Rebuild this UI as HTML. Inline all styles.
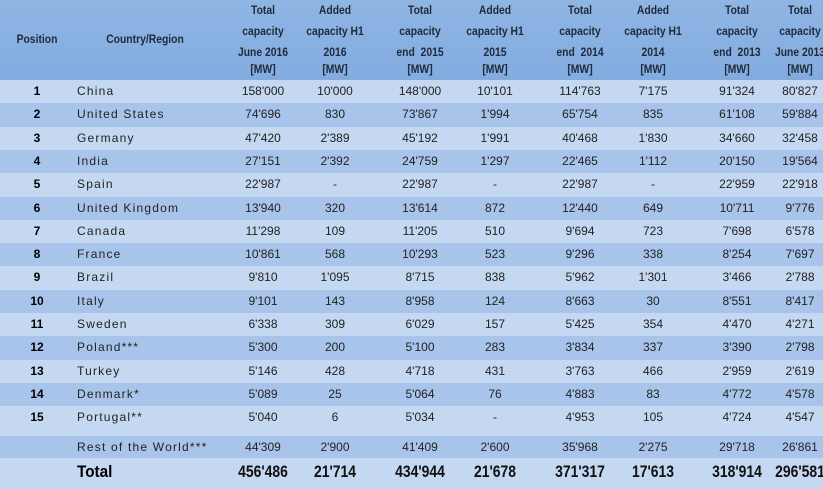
<!DOCTYPE html><html><head><style>
body{margin:0;width:823px;height:489px;background:#fff;font-family:"Liberation Sans",sans-serif;overflow:hidden;position:relative}
.hdr{position:absolute;left:0;top:0;width:823px;height:80px;background:linear-gradient(#8fb5e3,#82abdf)}
.h{position:absolute;font-weight:bold;font-size:11.5px;color:#1f2a3a;text-align:center;transform:translateX(-50%) scaleX(0.9);white-space:nowrap}
.r{position:absolute;left:0;width:823px}
.c{position:absolute;font-size:12px;color:#222;transform:translateX(-50%);white-space:nowrap;z-index:2}
.n{position:absolute;left:77px;font-size:12px;letter-spacing:1.2px;color:#222;white-space:nowrap;z-index:2}
.p{position:absolute;font-weight:bold;font-size:12px;transform:translateX(-50%);z-index:2}
</style></head><body>
<div class="hdr"></div>
<div id="rows"></div>
<div id="hd"></div>
<script>
var d=[["1","China","158'000","10'000","148'000","10'101","114'763","7'175","91'324","80'827"],
["2","United States","74'696","830","73'867","1'994","65'754","835","61'108","59'884"],
["3","Germany","47'420","2'389","45'192","1'991","40'468","1'830","34'660","32'458"],
["4","India","27'151","2'392","24'759","1'297","22'465","1'112","20'150","19'564"],
["5","Spain","22'987","-","22'987","-","22'987","-","22'959","22'918"],
["6","United Kingdom","13'940","320","13'614","872","12'440","649","10'711","9'776"],
["7","Canada","11'298","109","11'205","510","9'694","723","7'698","6'578"],
["8","France","10'861","568","10'293","523","9'296","338","8'254","7'697"],
["9","Brazil","9'810","1'095","8'715","838","5'962","1'301","3'466","2'788"],
["10","Italy","9'101","143","8'958","124","8'663","30","8'551","8'417"],
["11","Sweden","6'338","309","6'029","157","5'425","354","4'470","4'271"],
["12","Poland***","5'300","200","5'100","283","3'834","337","3'390","2'798"],
["13","Turkey","5'146","428","4'718","431","3'763","466","2'959","2'619"],
["14","Denmark*","5'089","25","5'064","76","4'883","83","4'772","4'578"],
["15","Portugal**","5'040","6","5'034","-","4'953","105","4'724","4'547"]];
var xs=[263,335,420,495,580,653,737,800],h="",rh=23.3;
function row(top,ht,bg,r,big){h+='<div class="r" style="top:'+top+'px;height:'+ht+'px;background:'+bg+'"></div>';
if(!r)return;var ty=top+4;
if(r[0])h+='<div class="p" style="left:37px;top:'+ty+'px">'+r[0]+'</div>';
if(big){h+='<div style="position:absolute;left:77px;top:'+(top+4)+'px;font-weight:bold;font-size:17px;z-index:2;transform:scaleX(0.9);transform-origin:left">'+r[1]+'</div>';}
else h+='<div class="n" style="top:'+ty+'px">'+r[1]+'</div>';
for(var i=0;i<8;i++)h+='<div class="c" style="left:'+xs[i]+'px;top:'+(big?top+4:ty)+'px;'+(big?'font-weight:bold;font-size:17px;color:#111;transform:translateX(-50%) scaleX(0.82)':'')+'">'+r[i+2]+'</div>';}
for(var k=0;k<15;k++){var t=Math.round(80+k*rh),b=Math.round(80+(k+1)*rh);row(t,(k==14?436:b)-t,k%2?"#a8c4ea":"#c4d8f1",d[k]);}
row(436,22,"#a8c4ea",["","Rest of the World***","44'309","2'900","41'409","2'600","35'968","2'275","29'718","26'861"]);
row(458,31,"#c4d8f1",["","Total","456'486","21'714","434'944","21'678","371'317","17'613","318'914","296'581"],1);
document.getElementById("rows").innerHTML=h;
var hd=[[263,"Total","capacity","June 2016"],[335,"Added","capacity H1","2016"],[420,"Total","capacity","end&nbsp; 2015"],[495,"Added","capacity H1","2015"],[580,"Total","capacity","end&nbsp; 2014"],[653,"Added","capacity H1","2014"],[737,"Total","capacity","end&nbsp; 2013"],[800,"Total","capacity","June 2013"]];
var s='<div class="h" style="left:37px;top:34px">Position</div><div class="h" style="left:145px;top:34px">Country/Region</div>';
var ys=[5,26,47,64];
hd.forEach(function(c){var l=[c[1],c[2],c[3],"[MW]"];for(var i=0;i<4;i++)s+='<div class="h" style="left:'+c[0]+'px;top:'+ys[i]+'px">'+l[i]+'</div>';});
document.getElementById("hd").innerHTML=s;
</script>
</body></html>
